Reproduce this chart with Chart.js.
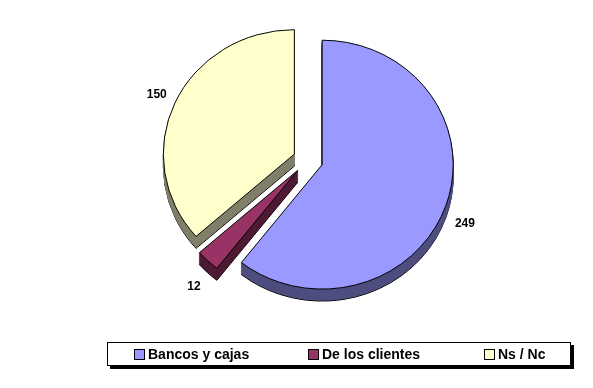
<!DOCTYPE html>
<html>
<head>
<meta charset="utf-8">
<script src="https://cdn.jsdelivr.net/npm/chart.js@4.4.1/dist/chart.umd.min.js"></script>
<style>
  html, body { margin: 0; padding: 0; background: #fff; }
  #wrap { position: relative; width: 593px; height: 388px; }
  #legend {
    position: absolute; left: 107px; top: 342px; width: 462px; height: 22px;
    border: 1px solid #000; box-shadow: 3px 3px 0 #000; background: #fff;
    font: bold 14px "Liberation Sans", Arial, sans-serif; color: #000;
  }
  .item { position: absolute; top: 0; height: 22px; line-height: 22px; white-space: nowrap; }
  .sw { display: inline-block; width: 9px; height: 9px; border: 1px solid #000; margin-right: 3px; vertical-align: -1px; }
</style>
</head>
<body>
<div id="wrap">
  <canvas id="pie" width="593" height="388"></canvas>
  <div id="legend"></div>
</div>
<script>
const labels = ['Bancos y cajas', 'De los clientes', 'Ns / Nc'];
const values = [249, 12, 150];
const topColors = ['#9999FF', '#993366', '#FFFFCC'];
const sideColors = ['#4D4D80', '#4D1A33', '#80806A'];

// look of the fake 3D pie
const EXPLODE = 15, TILT = 0.95, DEPTH = 12, LABEL_GAP = 20;
const legendX = [26, 200, 376];

function drawArcAt(ctx, arc, fill, stroke, dy) {
  const mid = (arc.startAngle + arc.endAngle) / 2;
  const el = Object.create(arc);
  if (fill) el.options = { ...arc.options, backgroundColor: fill, borderColor: stroke };
  ctx.save();
  ctx.translate(arc.x + Math.cos(mid) * EXPLODE, arc.y + Math.sin(mid) * EXPLODE * TILT + dy);
  ctx.scale(1, TILT);
  ctx.translate(-arc.x, -arc.y);
  el.draw(ctx);
  ctx.restore();
}

class Pie3D extends Chart.PieController {
  draw() {
    const ctx = this.chart.ctx;
    const arcs = this._cachedMeta.data;
    const sides = this.getDataset().sideColor;
    // side walls: stacked copies of each slice, the lowest one outlined
    for (let d = DEPTH; d >= 1; d--) {
      arcs.forEach((arc, i) => drawArcAt(ctx, arc, sides[i], d === DEPTH ? '#000' : sides[i], d));
    }
    arcs.forEach(arc => drawArcAt(ctx, arc, null, null, 0));
  }
}
Pie3D.id = 'pie3d';
Pie3D.defaults = Chart.PieController.defaults;
Pie3D.overrides = Chart.PieController.overrides;
Chart.register(Pie3D);

const valueLabels = {
  id: 'valueLabels',
  afterDatasetsDraw(chart) {
    const ctx = chart.ctx;
    const arcs = chart.getDatasetMeta(0).data;
    ctx.save();
    ctx.font = 'bold 12px "Liberation Sans", Arial, sans-serif';
    ctx.fillStyle = '#000';
    ctx.textAlign = 'center';
    ctx.textBaseline = 'middle';
    arcs.forEach((arc, i) => {
      const mid = (arc.startAngle + arc.endAngle) / 2;
      const r = EXPLODE + arc.outerRadius + LABEL_GAP;
      const x = arc.x + Math.cos(mid) * r;
      // labels of front slices sit below the side wall
      const y = arc.y + Math.sin(mid) * r * TILT + (Math.sin(mid) > 0.1 ? DEPTH : 0);
      ctx.fillText(String(values[i]), x, y);
    });
    ctx.restore();
  }
};

new Chart(document.getElementById('pie'), {
  type: 'pie3d',
  data: {
    labels,
    datasets: [{
      data: values,
      backgroundColor: topColors,
      sideColor: sideColors,
      borderColor: '#000',
      borderWidth: 1,
      borderJoinStyle: 'miter',
      offset: 0,
      hoverOffset: 0
    }]
  },
  options: {
    responsive: false,
    animation: false,
    radius: 131,
    layout: { padding: { left: 23, right: 0, top: 0, bottom: 68 } },
    plugins: { legend: { display: false }, tooltip: { enabled: false } },
    events: []
  },
  plugins: [valueLabels]
});

const legend = document.getElementById('legend');
labels.forEach((name, i) => {
  const item = document.createElement('div');
  item.className = 'item';
  item.style.left = legendX[i] + 'px';
  item.innerHTML = '<span class="sw" style="background:' + topColors[i] + '"></span>' + name;
  legend.appendChild(item);
});
</script>
</body>
</html>
